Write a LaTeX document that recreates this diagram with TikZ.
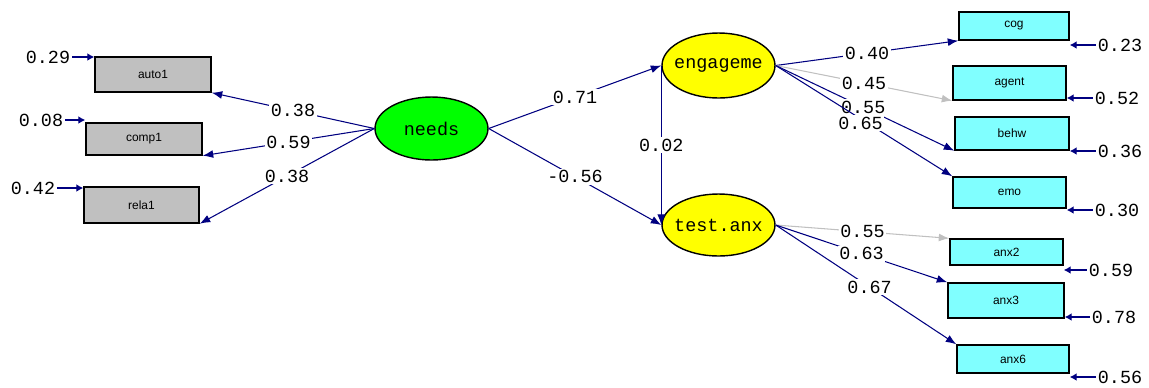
\documentclass[tikz,border=0pt]{standalone}
\usepackage{fontspec}
\setmonofont{Liberation Mono}
\setsansfont{Liberation Sans}
\usepackage{tikz}
\usetikzlibrary{shapes.geometric,arrows.meta}
\definecolor{pathblue}{RGB}{0,0,128}
\definecolor{pathgray}{RGB}{192,192,192}
\definecolor{boxgray}{RGB}{192,192,192}
\definecolor{boxcyan}{RGB}{128,255,255}
\definecolor{latgreen}{RGB}{0,255,0}
\definecolor{latyellow}{RGB}{255,255,0}
\tikzstyle{latent}=[draw=black,thick,ellipse,inner sep=0pt,minimum width=2.26cm,minimum height=1.26cm]
\tikzstyle{obs}=[draw=black,line width=0.8pt,rectangle,inner sep=0pt,minimum width=2.26cm,font=\sffamily\fontsize{6.8}{8}\selectfont]
\tikzstyle{path}=[pathblue,line width=0.6pt,-{Latex[length=6pt,width=4.5pt]}]
\tikzstyle{err}=[pathblue,line width=1.2pt,-{Latex[length=4pt,width=4.5pt]}]
\tikzstyle{coef}=[fill=white,inner sep=1pt,font=\ttf,text=black]
\tikzstyle{errlbl}=[inner sep=1pt,font=\ttf]
\newcommand{\ttf}{\ttfamily\fontsize{10.5}{12}\selectfont}

\begin{document}
\begin{tikzpicture}[x=0.02cm,y=-0.02cm,every label/.style={font=\ttf,inner sep=0pt}]
  \useasboundingbox (0,0) rectangle (1149,387);
  % latent variables
  \node[latent,fill=latgreen,label=center:needs] (needs) at (431.5,128.5) {};
  \node[latent,fill=latyellow,minimum height=1.3cm,label=center:engageme] (engage) at (718.5,65.5) {};
  \node[latent,fill=latyellow,minimum height=1.24cm,label=center:test.anx] (testanx) at (718.5,225) {};
  % observed, left
  \node[obs,fill=boxgray,minimum width=2.32cm,minimum height=0.70cm] (auto1) at (153,74.5) {auto1};
  \node[obs,fill=boxgray,minimum width=2.32cm,minimum height=0.64cm] (comp1) at (144,139) {comp1};
  \node[obs,fill=boxgray,minimum width=2.30cm,minimum height=0.72cm] (rela1) at (141.5,205) {rela1};
  % observed, right
  \node[obs,fill=boxcyan,minimum width=2.20cm,minimum height=0.56cm] (cog) at (1014,26) {cog};
  \node[obs,fill=boxcyan,minimum height=0.68cm] (agent) at (1009.5,83) {agent};
  \node[obs,fill=boxcyan,minimum width=2.28cm,minimum height=0.66cm] (behw) at (1012,133.5) {behw};
  \node[obs,fill=boxcyan,minimum height=0.62cm] (emo) at (1009.5,192.5) {emo};
  \node[obs,fill=boxcyan,minimum height=0.52cm] (anx2) at (1006.5,252) {anx2};
  \node[obs,fill=boxcyan,minimum width=2.32cm,minimum height=0.70cm] (anx3) at (1006,300.5) {anx3};
  \node[obs,fill=boxcyan,minimum width=2.24cm,minimum height=0.56cm] (anx6) at (1013,359) {anx6};
  % error variances
  \node[errlbl] (eauto) at (48,57) {0.29};
  \node[errlbl] (ecomp) at (41,120) {0.08};
  \node[errlbl] (erela) at (33,188) {0.42};
  \node[errlbl] (ecog) at (1120,45) {0.23};
  \node[errlbl] (eagent) at (1117,98) {0.52};
  \node[errlbl] (ebehw) at (1120,151) {0.36};
  \node[errlbl] (eemo) at (1117,210) {0.30};
  \node[errlbl] (eanx2) at (1111,270) {0.59};
  \node[errlbl] (eanx3) at (1114,317) {0.78};
  \node[errlbl] (eanx6) at (1120,377) {0.56};
  \draw[err] (eauto.east) -- (eauto.east -| auto1.west);
  \draw[err] (ecomp.east) -- (ecomp.east -| comp1.west);
  \draw[err] (erela.east) -- (erela.east -| rela1.west);
  \foreach \b in {cog,agent,behw,emo,anx2,anx3,anx6}
    \draw[err] (e\b.west) -- (e\b.west -| \b.east);
  % loadings and paths
  \draw[path] (needs.west) -- node[coef] {0.38} (auto1.south east);
  \draw[path] (needs.west) -- node[coef] {0.59} (comp1.south east);
  \draw[path] (needs.west) -- node[coef] {0.38} (rela1.south east);
  \draw[path] (needs.east) -- node[coef] {0.71} (engage.west);
  \draw[path] (needs.east) -- node[coef] {-0.56} (testanx.west);
  \draw[path] (engage.west) -- node[coef] {0.02} (testanx.west);
  \draw[path] (engage.east) -- node[coef] {0.40} (cog.south west);
  \draw[path,pathgray] (engage.east) -- node[coef] {0.45} (agent.south west);
  \draw[path] (engage.east) -- node[coef,pos=0.49] {0.55} (behw.south west);
  \draw[path] (engage.east) -- node[coef,pos=0.52,xshift=-4pt] {0.65} (emo.north west);
  \draw[path,pathgray] (testanx.east) -- node[coef] {0.55} (anx2.north west);
  \draw[path] (testanx.east) -- node[coef] {0.63} (anx3.north west);
  \draw[path] (testanx.east) -- node[coef,pos=0.52] {0.67} (anx6.north west);
\end{tikzpicture}
\end{document}
